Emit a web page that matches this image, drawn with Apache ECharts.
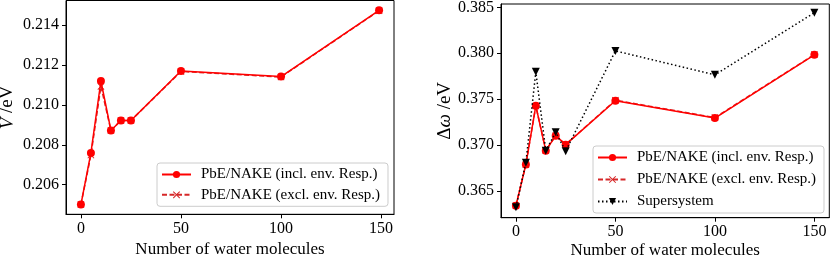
<!DOCTYPE html>
<html>
<head>
<meta charset="utf-8">
<script src="https://cdn.jsdelivr.net/npm/echarts@6/dist/echarts.min.js"></script>
<style>
html,body{margin:0;padding:0;background:#fff;}
#c{width:830px;height:257px;}
</style>
</head>
<body>
<div id="c"></div>
<script>
// ---- data ----
const xLeft = [0, 5, 10, 15, 20, 25, 50, 100, 149];
const vIncl = [0.20500, 0.20759, 0.21120, 0.20872, 0.20922, 0.20922, 0.21170, 0.21142, 0.21475];
const vExcl = [0.20500, 0.20748, 0.21093, 0.20872, 0.20922, 0.20922, 0.21168, 0.21140, 0.21473];

const xRight = [0, 5, 10, 15, 20, 25, 50, 100, 150];
const dwIncl = [0.36337, 0.36787, 0.37427, 0.36938, 0.37101, 0.37003, 0.37482, 0.37293, 0.37982];
const dwExcl = [0.36340, 0.36785, 0.37425, 0.36940, 0.37100, 0.37005, 0.37487, 0.37298, 0.37985];
const dwSuper = [0.36320, 0.36806, 0.37797, 0.36938, 0.37138, 0.36932, 0.38025, 0.37764, 0.38441];

const xTicks = [0, 50, 100, 150];
const yTicksLeft = [0.206, 0.208, 0.210, 0.212, 0.214];
const yTicksRight = [0.365, 0.370, 0.375, 0.380, 0.385];

const nameIncl = 'PbE/NAKE (incl. env. Resp.)';
const nameExcl = 'PbE/NAKE (excl. env. Resp.)';
const nameSuper = 'Supersystem';

// ---- chart ----
const FONT = '"Liberation Serif", "DejaVu Serif", serif';
const zip = (xs, ys) => xs.map((x, i) => [x, ys[i]]);
const crossPath = 'path://M1,0L5,4L9,0L10,1L6,5L10,9L9,10L5,6L1,10L0,9L4,5L0,1Z';
const triDown = 'path://M0,0L10,0L5,9Z';

function xAxisCfg(gi, min, max, gap) {
  return {
    type: 'value', gridIndex: gi, min: min, max: max,
    name: 'Number of water molecules', nameLocation: 'middle', nameGap: gap, nameMoveOverlap: false,
    nameTextStyle: {fontFamily: FONT, fontSize: 17, color: '#000'},
    axisLine: {show: true, onZero: false, lineStyle: {color: '#000', width: 1}},
    axisTick: {show: true, inside: false, length: 4, lineStyle: {color: '#000'}, customValues: xTicks},
    axisLabel: {fontFamily: FONT, fontSize: 16, color: '#000', margin: 6, customValues: xTicks,
      formatter: v => String(v)},
    splitLine: {show: false}
  };
}
function yAxisCfg(gi, min, max, ticks, name, gap) {
  return {
    type: 'value', gridIndex: gi, min: min, max: max,
    name: name, nameLocation: 'middle', nameGap: gap, nameRotate: 90,
    nameTextStyle: {fontFamily: FONT, fontSize: 18, color: '#000',
      rich: {i: {fontFamily: FONT, fontSize: 19, fontStyle: 'italic', color: '#000'},
             n: {fontFamily: FONT, fontSize: 19, color: '#000'}}},
    axisLine: {show: true, onZero: false, lineStyle: {color: '#000', width: 1}},
    axisTick: {show: true, inside: false, length: 4, lineStyle: {color: '#000'}, customValues: ticks},
    axisLabel: {fontFamily: FONT, fontSize: 16, color: '#000', margin: 7, customValues: ticks,
      formatter: v => v.toFixed(3)},
    splitLine: {show: false}
  };
}

function redSeries(name, gi, data, dashed, symbol) {
  return {
    name: name, type: 'line', xAxisIndex: gi, yAxisIndex: gi, data: data,
    symbol: symbol, symbolSize: dashed ? 7 : 8,
    lineStyle: {color: dashed ? '#d62728' : '#ff0000', width: 1.5, type: dashed ? [5, 2.5] : 'solid'},
    itemStyle: {color: dashed ? '#d62728' : '#ff0000'},
    z: dashed ? 2 : 3, animation: false
  };
}

function legendCfg(left, top, names, gap) {
  return {
    left: left, top: top, orient: 'vertical', data: names,
    backgroundColor: 'rgba(255,255,255,0.8)', borderColor: '#cccccc', borderWidth: 1, borderRadius: 3,
    padding: [4, 8, 4, 4], itemGap: gap, itemWidth: 29, itemHeight: 9,
    textStyle: {fontFamily: FONT, fontSize: 15, color: '#000', lineHeight: 14, padding: [0, 0, 0, 5]},
    selectedMode: false
  };
}

const chart = echarts.init(document.getElementById('c'), null, {renderer: 'canvas'});
chart.setOption({
  backgroundColor: '#fff',
  animation: false,
  grid: [
    {left: 66, top: 0.5, width: 328, height: 213.8, show: true, borderColor: '#000', borderWidth: 1,
     backgroundColor: 'transparent', outerBoundsMode: 'none', containLabel: false},
    {left: 501, top: 4, width: 328.3, height: 213.7, show: true, borderColor: '#000', borderWidth: 1,
     backgroundColor: 'transparent', outerBoundsMode: 'none', containLabel: false}
  ],
  xAxis: [xAxisCfg(0, -7.45, 156.45, 27), xAxisCfg(1, -7.5, 157.5, 24)],
  yAxis: [
    yAxisCfg(0, 0.20451, 0.21524, yTicksLeft, '{i|V}{n| /eV}', 49),
    yAxisCfg(1, 0.36207, 0.38536, yTicksRight, '{n|Δ}{i|ω}{n| /eV}', 46)
  ],
  legend: [
    legendCfg(157, 163, [nameIncl, nameExcl], 5.3),
    legendCfg(593, 146, [nameIncl, nameExcl, nameSuper], 7)
  ],
  series: [
    redSeries(nameExcl, 0, zip(xLeft, vExcl), true, crossPath),
    redSeries(nameIncl, 0, zip(xLeft, vIncl), false, 'circle'),
    redSeries(nameExcl, 1, zip(xRight, dwExcl), true, crossPath),
    redSeries(nameIncl, 1, zip(xRight, dwIncl), false, 'circle'),
    {
      name: nameSuper, type: 'line', xAxisIndex: 1, yAxisIndex: 1, data: zip(xRight, dwSuper),
      symbol: triDown, symbolSize: [8, 8],
      lineStyle: {color: '#000', width: 1.5, type: [1.5, 2.5]},
      itemStyle: {color: '#000'}, z: 4, animation: false
    }
  ]
});
</script>
</body>
</html>
